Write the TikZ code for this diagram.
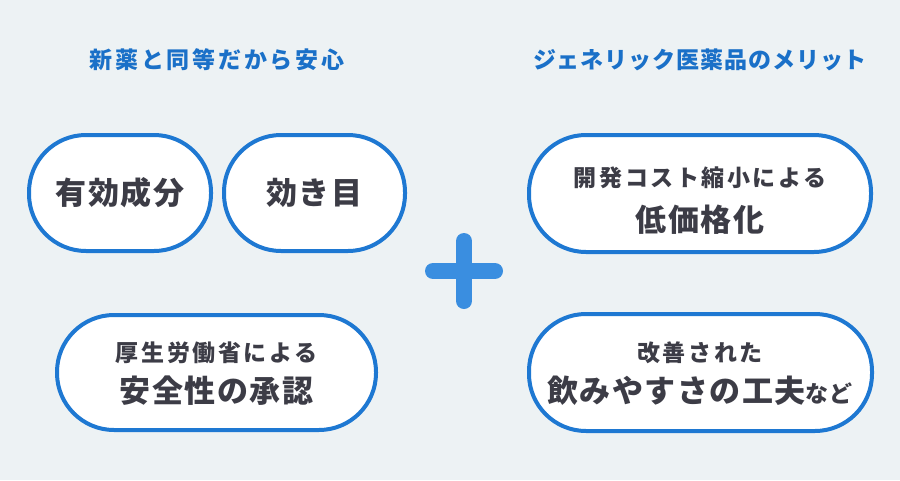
\documentclass[tikz,border=0pt]{standalone}
\usepackage{fontspec}
\usepackage{tikz}
\newfontfamily\jp{Noto Sans CJK JP}
\definecolor{bg}{HTML}{EDF2F4}
\definecolor{pillblue}{HTML}{1E78D2}
\definecolor{titleblue}{HTML}{1A70C8}
\definecolor{plusblue}{HTML}{3A8EE0}
\definecolor{ink}{HTML}{3C3C46}
\tikzstyle{pill}=[draw=pillblue, line width=4pt, fill=white, rounded corners=57pt, minimum height=116pt, inner sep=0pt]
\tikzstyle{heading}=[text=titleblue, font=\jp\bfseries\addfontfeatures{LetterSpace=4}\fontsize{23}{27}\selectfont]
\tikzstyle{wideheading}=[heading, font=\jp\bfseries\addfontfeatures{LetterSpace=12}\fontsize{23}{27}\selectfont]
\tikzstyle{lead}=[text=ink, font=\jp\bfseries\addfontfeatures{LetterSpace=11}\fontsize{23}{27}\selectfont]
\tikzstyle{big}=[text=ink, font=\jp\bfseries\addfontfeatures{LetterSpace=5}\fontsize{31}{36}\selectfont]
\tikzstyle{plusbar}=[line width=16pt, line cap=round, draw=plusblue]
\begin{document}
\begin{tikzpicture}[x=1pt, y=-1pt]
  \fill[bg] (0,0) rectangle (900,480);
  % left side
  \node[wideheading] (safe) at (217,60) {新薬と同等だから安心};
  \node[pill, minimum width=182pt] (ingredient) at (120,193) {};
  \node[big] (ingredientT) at (ingredient) {有効成分};
  \node[pill, minimum width=181pt] (effect) at (314.5,193) {};
  \node[big] (effectT) at (effect) {効き目};
  \node[pill, minimum width=319pt, minimum height=115pt] (approval) at (216.5,372.5) {};
  \node[lead] (approvalA) at (216.5,353) {厚生労働省による};
  \node[big] (approvalB) at (216.5,391) {安全性の承認};
  % plus
  \coordinate (plus) at (464,271);
  \draw[plusbar] ([yshift=30pt]plus) -- ([yshift=-30pt]plus);
  \draw[plusbar] ([xshift=-31pt]plus) -- ([xshift=31pt]plus);
  % right side
  \node[heading] (merit) at (700,60) {ジェネリック医薬品のメリット};
  \node[pill, minimum width=342pt, minimum height=117pt] (cost) at (700,193.5) {};
  \node[lead] (costA) at (700,178) {開発コスト縮小による};
  \node[big] (costB) at (700,220) {低価格化};
  \node[pill, minimum width=343pt, minimum height=117pt] (ease) at (700.5,372.5) {};
  \node[lead] (easeA) at (700,353) {改善された};
  \node[big] (easeB) at (700,391) {飲みやすさの工夫{\fontsize{23}{27}\selectfont など}};
\end{tikzpicture}
\end{document}
